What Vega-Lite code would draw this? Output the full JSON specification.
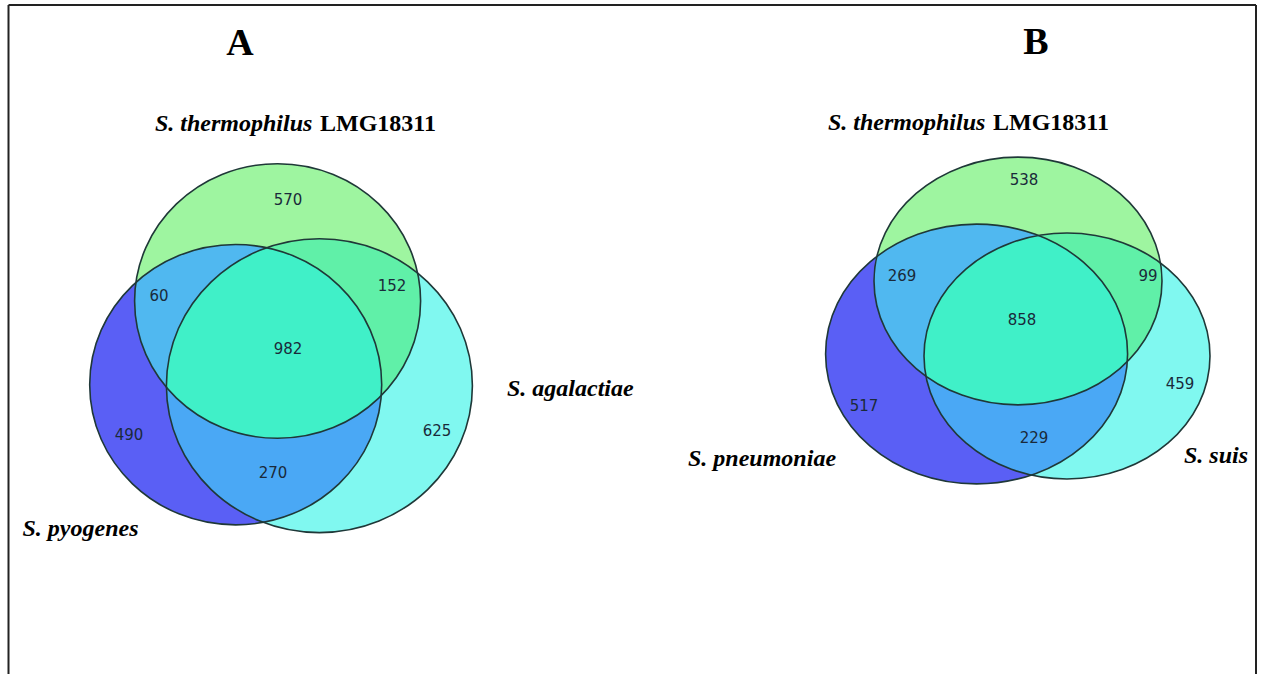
{
  "$schema": "https://vega.github.io/schema/vega-lite/v6.json",
  "width": 1263,
  "height": 675,
  "padding": 0,
  "autosize": {"type": "fit", "contains": "padding"},
  "background": "white",
  "config": {"view": {"stroke": null}},
  "datasets": {
    "frame": [
      {"x": 8.5, "y": 5, "x2": 1256, "y2": 5},
      {"x": 8.5, "y": 5, "x2": 8.5, "y2": 674},
      {"x": 1256, "y": 5, "x2": 1256, "y2": 674}
    ],
    "patches": [
      {"panel": "A", "part": "B", "key": "A-B", "x": 277.6, "y": 301},
      {"panel": "A", "part": "C", "key": "A-C", "x": 277.6, "y": 301},
      {"panel": "A", "part": "G", "key": "A-G", "x": 277.6, "y": 301},
      {"panel": "A", "part": "GB", "key": "A-GB", "x": 277.6, "y": 301},
      {"panel": "A", "part": "GC", "key": "A-GC", "x": 277.6, "y": 301},
      {"panel": "A", "part": "BC", "key": "A-BC", "x": 277.6, "y": 301},
      {"panel": "A", "part": "GBC", "key": "A-GBC", "x": 277.6, "y": 301},
      {"panel": "B", "part": "B", "key": "B-B", "x": 1018, "y": 281},
      {"panel": "B", "part": "C", "key": "B-C", "x": 1018, "y": 281},
      {"panel": "B", "part": "G", "key": "B-G", "x": 1018, "y": 281},
      {"panel": "B", "part": "GB", "key": "B-GB", "x": 1018, "y": 281},
      {"panel": "B", "part": "GC", "key": "B-GC", "x": 1018, "y": 281},
      {"panel": "B", "part": "BC", "key": "B-BC", "x": 1018, "y": 281},
      {"panel": "B", "part": "GBC", "key": "B-GBC", "x": 1018, "y": 281}
    ],
    "counts": [
      {"panel": "A", "region": "thermophilus only", "count": 570, "x": 288, "y": 200},
      {"panel": "A", "region": "thermophilus & pyogenes", "count": 60, "x": 159, "y": 296},
      {"panel": "A", "region": "thermophilus & agalactiae", "count": 152, "x": 392, "y": 286},
      {"panel": "A", "region": "all three", "count": 982, "x": 288, "y": 349},
      {"panel": "A", "region": "pyogenes only", "count": 490, "x": 129, "y": 435},
      {"panel": "A", "region": "pyogenes & agalactiae", "count": 270, "x": 273, "y": 473},
      {"panel": "A", "region": "agalactiae only", "count": 625, "x": 437, "y": 431},
      {"panel": "B", "region": "thermophilus only", "count": 538, "x": 1024, "y": 180},
      {"panel": "B", "region": "thermophilus & pneumoniae", "count": 269, "x": 902, "y": 276},
      {"panel": "B", "region": "thermophilus & suis", "count": 99, "x": 1148, "y": 276},
      {"panel": "B", "region": "all three", "count": 858, "x": 1022, "y": 320},
      {"panel": "B", "region": "pneumoniae only", "count": 517, "x": 864, "y": 406},
      {"panel": "B", "region": "pneumoniae & suis", "count": 229, "x": 1034, "y": 438},
      {"panel": "B", "region": "suis only", "count": 459, "x": 1180, "y": 384}
    ],
    "italicLabels": [
      {"text": "S. thermophilus", "x": 155, "y": 130.5},
      {"text": "S. agalactiae", "x": 507, "y": 396},
      {"text": "S. pyogenes", "x": 22.5, "y": 536},
      {"text": "S. thermophilus", "x": 828, "y": 130},
      {"text": "S. pneumoniae", "x": 688, "y": 466},
      {"text": "S. suis", "x": 1184, "y": 463}
    ],
    "uprightLabels": [
      {"text": "LMG18311", "x": 320, "y": 130.5},
      {"text": "LMG18311", "x": 993, "y": 130}
    ],
    "panelLetters": [
      {"text": "A", "x": 240, "y": 55},
      {"text": "B", "x": 1036, "y": 54}
    ]
  },
  "layer": [
    {
      "data": {"name": "frame"},
      "mark": {"type": "rule", "color": "#222222", "strokeWidth": 2},
      "encoding": {
        "x": {"field": "x", "type": "quantitative", "scale": {"domain": [0, 1263], "nice": false, "zero": false}, "axis": null},
        "y": {"field": "y", "type": "quantitative", "scale": {"domain": [0, 675], "nice": false, "zero": false, "reverse": true}, "axis": null},
        "x2": {"field": "x2"},
        "y2": {"field": "y2"}
      }
    },
    {
      "data": {"name": "patches"},
      "transform": [{"filter": {"field": "part", "oneOf": ["B", "C", "G"]}}],
      "mark": {"type": "point", "filled": true, "opacity": 1, "size": 4, "strokeWidth": 0},
      "encoding": {
        "x": {"field": "x", "type": "quantitative", "scale": {"domain": [0, 1263], "nice": false, "zero": false}, "axis": null},
        "y": {"field": "y", "type": "quantitative", "scale": {"domain": [0, 675], "nice": false, "zero": false, "reverse": true}, "axis": null},
        "shape": {"field": "key", "type": "nominal", "legend": null, "scale": {
          "domain": ["A-G", "A-B", "A-C", "A-GB", "A-GC", "A-BC", "A-GBC", "B-G", "B-B", "B-C", "B-GB", "B-GC", "B-BC", "B-GBC"],
          "range": [
            "M -143 0 A 143 137.28 0 1 0 143 0 A 143 137.28 0 1 0 -143 0 Z",
            "M -187.9 83.7 A 146 140.16 0 1 0 104.1 83.7 A 146 140.16 0 1 0 -187.9 83.7 Z",
            "M -111.2 84.7 A 153 146.88 0 1 0 194.8 84.7 A 153 146.88 0 1 0 -111.2 84.7 Z",
            "M -141.69 -18.62 A 143 137.28 0 0 0 103.67 94.58 A 146 140.16 0 0 0 -141.69 -18.62 Z",
            "M -111.19 86.32 A 143 137.28 0 0 0 140.01 -27.92 A 153 146.88 0 0 0 -111.19 86.32 Z",
            "M -14.33 221.34 A 146 140.16 0 0 0 -10.77 -53.24 A 153 146.88 0 0 0 -14.33 221.34 Z",
            "M -10.77 -53.24 A 146 140.16 0 0 1 103.67 94.58 A 143 137.28 0 0 1 -111.19 86.32 A 153 146.88 0 0 1 -10.77 -53.24 Z",
            "M -144 0 A 144 123.84 0 1 0 144 0 A 144 123.84 0 1 0 -144 0 Z",
            "M -192.4 73 A 151 129.86 0 1 0 109.6 73 A 151 129.86 0 1 0 -192.4 73 Z",
            "M -94 75 A 143 122.98 0 1 0 192 75 A 143 122.98 0 1 0 -94 75 Z",
            "M -141.15 -24.48 A 144 123.84 0 0 0 109.33 80.59 A 151 129.86 0 0 0 -141.15 -24.48 Z",
            "M -92.06 95.24 A 144 123.84 0 0 0 142.46 -18.08 A 143 122.98 0 0 0 -92.06 95.24 Z",
            "M 13.21 194.06 A 151 129.86 0 0 0 20.39 -45.49 A 143 122.98 0 0 0 13.21 194.06 Z",
            "M 20.39 -45.49 A 151 129.86 0 0 1 109.33 80.59 A 144 123.84 0 0 1 -92.06 95.24 A 143 122.98 0 0 1 20.39 -45.49 Z"
          ]}},
        "color": {"field": "part", "type": "nominal", "legend": null, "scale": {
          "domain": ["G", "B", "C", "GB", "GC", "BC", "GBC"],
          "range": ["#9ef5a0", "#5a5ff5", "#80f8f0", "#50b8f0", "#60f0a8", "#4aa8f5", "#40f0c8"]}}
      }
    },
    {
      "data": {"name": "patches"},
      "transform": [{"filter": {"field": "part", "oneOf": ["GB", "GC", "BC"]}}],
      "mark": {"type": "point", "filled": true, "opacity": 1, "size": 4, "strokeWidth": 0},
      "encoding": {
        "x": {"field": "x", "type": "quantitative", "scale": {"domain": [0, 1263], "nice": false, "zero": false}, "axis": null},
        "y": {"field": "y", "type": "quantitative", "scale": {"domain": [0, 675], "nice": false, "zero": false, "reverse": true}, "axis": null},
        "shape": {"field": "key", "type": "nominal", "legend": null},
        "color": {"field": "part", "type": "nominal", "legend": null}
      }
    },
    {
      "data": {"name": "patches"},
      "transform": [{"filter": {"field": "part", "equal": "GBC"}}],
      "mark": {"type": "point", "filled": true, "opacity": 1, "size": 4, "strokeWidth": 0},
      "encoding": {
        "x": {"field": "x", "type": "quantitative", "scale": {"domain": [0, 1263], "nice": false, "zero": false}, "axis": null},
        "y": {"field": "y", "type": "quantitative", "scale": {"domain": [0, 675], "nice": false, "zero": false, "reverse": true}, "axis": null},
        "shape": {"field": "key", "type": "nominal", "legend": null},
        "color": {"field": "part", "type": "nominal", "legend": null}
      }
    },
    {
      "data": {"name": "patches"},
      "transform": [{"filter": {"field": "part", "oneOf": ["B", "C", "G"]}}],
      "mark": {"type": "point", "filled": false, "opacity": 1, "size": 4, "stroke": "#1f3838", "strokeWidth": 1.6},
      "encoding": {
        "x": {"field": "x", "type": "quantitative", "scale": {"domain": [0, 1263], "nice": false, "zero": false}, "axis": null},
        "y": {"field": "y", "type": "quantitative", "scale": {"domain": [0, 675], "nice": false, "zero": false, "reverse": true}, "axis": null},
        "shape": {"field": "key", "type": "nominal", "legend": null}
      }
    },
    {
      "data": {"name": "counts"},
      "mark": {"type": "text", "font": "DejaVu Sans", "fontSize": 15, "color": "#1a2a3a", "align": "center", "baseline": "middle"},
      "encoding": {
        "x": {"field": "x", "type": "quantitative", "scale": {"domain": [0, 1263], "nice": false, "zero": false}, "axis": null},
        "y": {"field": "y", "type": "quantitative", "scale": {"domain": [0, 675], "nice": false, "zero": false, "reverse": true}, "axis": null},
        "text": {"field": "count", "type": "quantitative"}
      }
    },
    {
      "data": {"name": "italicLabels"},
      "mark": {"type": "text", "font": "Liberation Serif", "fontSize": 24, "fontStyle": "italic", "fontWeight": "bold", "color": "#000000", "align": "left", "baseline": "alphabetic"},
      "encoding": {
        "x": {"field": "x", "type": "quantitative", "scale": {"domain": [0, 1263], "nice": false, "zero": false}, "axis": null},
        "y": {"field": "y", "type": "quantitative", "scale": {"domain": [0, 675], "nice": false, "zero": false, "reverse": true}, "axis": null},
        "text": {"field": "text", "type": "nominal"}
      }
    },
    {
      "data": {"name": "uprightLabels"},
      "mark": {"type": "text", "font": "Liberation Serif", "fontSize": 24, "fontWeight": "bold", "color": "#000000", "align": "left", "baseline": "alphabetic"},
      "encoding": {
        "x": {"field": "x", "type": "quantitative", "scale": {"domain": [0, 1263], "nice": false, "zero": false}, "axis": null},
        "y": {"field": "y", "type": "quantitative", "scale": {"domain": [0, 675], "nice": false, "zero": false, "reverse": true}, "axis": null},
        "text": {"field": "text", "type": "nominal"}
      }
    },
    {
      "data": {"name": "panelLetters"},
      "mark": {"type": "text", "font": "Liberation Serif", "fontSize": 38, "fontWeight": "bold", "color": "#000000", "align": "center", "baseline": "alphabetic"},
      "encoding": {
        "x": {"field": "x", "type": "quantitative", "scale": {"domain": [0, 1263], "nice": false, "zero": false}, "axis": null},
        "y": {"field": "y", "type": "quantitative", "scale": {"domain": [0, 675], "nice": false, "zero": false, "reverse": true}, "axis": null},
        "text": {"field": "text", "type": "nominal"}
      }
    }
  ]
}
